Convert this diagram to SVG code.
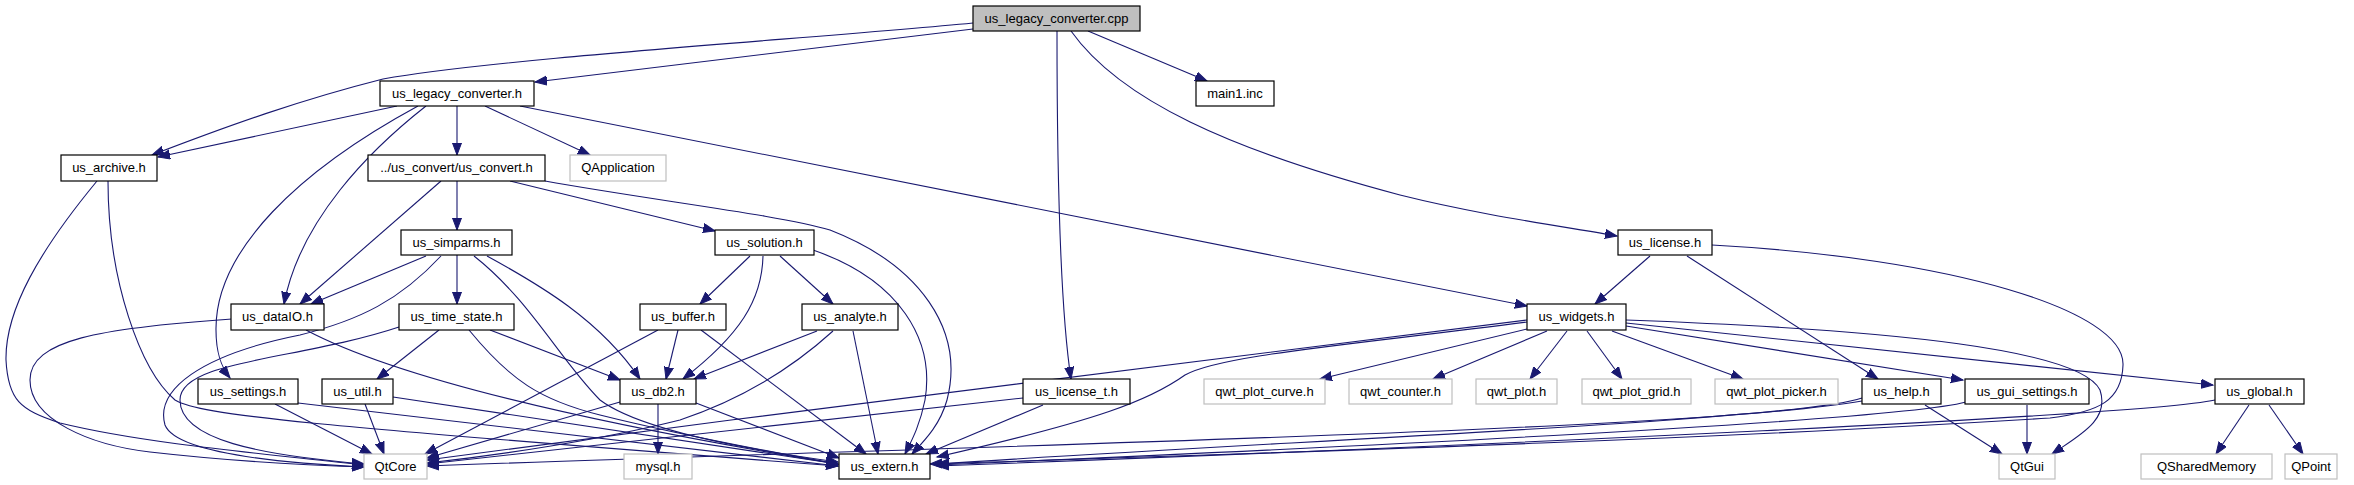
<svg xmlns="http://www.w3.org/2000/svg" width="2354" height="485" viewBox="0 0 2354 485">
<defs>
<marker id="ah" markerUnits="userSpaceOnUse" markerWidth="14" markerHeight="12" refX="12" refY="5" orient="auto">
<path d="M0,0.5 L12,5 L0,9.5 Z" fill="#191970" stroke="#191970" stroke-width="1"/>
</marker>
</defs>
<style>
.n rect{fill:#fff;stroke:#000;stroke-width:1.2}
.x rect{fill:#fff;stroke:#bfbfbf;stroke-width:1.2}
.r rect{fill:#bfbfbf;stroke:#000;stroke-width:1.2}
text{font-family:"Liberation Sans",Arial,sans-serif;font-size:13px;fill:#000;text-anchor:middle}
.e path{fill:none;stroke:#191970;stroke-width:1.1;marker-end:url(#ah)}
</style>
<rect width="2354" height="485" fill="#fff"/>
<g class="e" id="edges">
<path d="M973,23 C820,38 500,58 383,79 C300,100 230,125 152,155"/>
<path d="M973,29 L535,82"/>
<path d="M1088,31 L1207,81"/>
<path d="M1071,31 C1120,100 1230,150 1400,195 C1480,215 1560,226 1617,236"/>
<path d="M1057,31 C1057,200 1062,320 1071,379"/>
<path d="M397,106 L158,157"/>
<path d="M457,106 L457,155"/>
<path d="M485,106 L590,155"/>
<path d="M520,106 L1527,306"/>
<path d="M426,106 C370,150 300,220 284,304"/>
<path d="M418,106 C300,170 215,250 216,330 C216,355 222,368 230,378"/>
<path d="M97,181 C40,250 5,310 6,360 C8,400 20,410 60,423 C150,445 280,455 364,465"/>
<path d="M108,181 C108,280 140,370 175,400 C200,415 300,425 838,466"/>
<path d="M457,181 L457,230"/>
<path d="M510,181 L715,231"/>
<path d="M441,181 L300,304"/>
<path d="M545,181 C650,200 780,215 830,230 C920,265 965,330 947,400 C940,425 925,440 912,454"/>
<path d="M426,256 L311,304"/>
<path d="M457,255 L457,304"/>
<path d="M487,256 C540,285 600,320 640,379"/>
<path d="M441,256 C400,300 360,320 300,335 C200,355 155,390 165,425 C175,450 260,462 364,467"/>
<path d="M474,256 C530,300 560,360 600,400 C640,430 750,450 838,462"/>
<path d="M750,256 L700,304"/>
<path d="M780,256 L833,304"/>
<path d="M763,256 C762,300 740,335 683,379"/>
<path d="M813,250 C900,280 935,340 925,400 C920,425 912,440 905,454"/>
<path d="M232,319 C100,328 30,340 30,380 C30,420 90,445 150,452 C220,460 300,465 364,467"/>
<path d="M306,330 C400,380 600,425 838,464"/>
<path d="M439,330 L377,379"/>
<path d="M490,330 L620,380"/>
<path d="M399,327 C300,360 180,360 180,400 C180,440 260,455 364,464"/>
<path d="M469,330 C510,380 540,400 600,415 C680,435 760,450 838,464"/>
<path d="M678,330 L666,379"/>
<path d="M658,330 L425,454"/>
<path d="M701,330 L866,454"/>
<path d="M817,331 L694,379"/>
<path d="M833,331 C790,370 740,400 680,420 C600,440 500,455 427,463"/>
<path d="M853,331 L878,454"/>
<path d="M275,404 L372,454"/>
<path d="M298,403 L838,466"/>
<path d="M365,404 L384,454"/>
<path d="M393,397 L838,464"/>
<path d="M658,404 L658,454"/>
<path d="M620,402 L427,458"/>
<path d="M696,403 L839,458"/>
<path d="M1023,398 L427,464"/>
<path d="M1043,405 L926,454"/>
<path d="M1650,256 L1595,304"/>
<path d="M1687,256 L1878,379"/>
<path d="M1712,245 C1950,258 2125,310 2123,365 C2122,400 2100,412 2050,418 C1700,440 1300,452 930,464"/>
<path d="M1527,329 L1320,379"/>
<path d="M1547,331 L1433,379"/>
<path d="M1567,331 L1530,379"/>
<path d="M1587,331 L1622,379"/>
<path d="M1612,331 L1743,379"/>
<path d="M1527,320 C1200,360 800,410 427,460"/>
<path d="M1527,322 C1350,345 1220,355 1185,375 C1150,400 1100,420 937,457"/>
<path d="M1626,326 L1963,380"/>
<path d="M1626,323 L2213,385"/>
<path d="M1626,320 C1900,330 2080,350 2100,390 C2110,420 2080,435 2052,454"/>
<path d="M1925,405 L2002,454"/>
<path d="M1862,398 C1800,420 1300,440 937,464"/>
<path d="M1862,401 C1700,430 1000,445 427,466"/>
<path d="M2027,405 L2027,454"/>
<path d="M1966,402 C1900,420 1400,445 937,465"/>
<path d="M2215,400 C2150,415 1500,445 937,466"/>
<path d="M2249,405 L2216,454"/>
<path d="M2269,405 L2303,454"/>
</g>
<g id="n_cpp" class="r"><rect x="973" y="6" width="167" height="25"/><text x="1056.5" y="23">us_legacy_converter.cpp</text></g>
<g id="n_legacy_h" class="n"><rect x="380" y="81" width="154" height="25"/><text x="457" y="98">us_legacy_converter.h</text></g>
<g id="n_main1" class="n"><rect x="1196" y="81" width="78" height="25"/><text x="1235" y="98">main1.inc</text></g>
<g id="n_archive" class="n"><rect x="61" y="155" width="96" height="26"/><text x="109" y="172">us_archive.h</text></g>
<g id="n_convert" class="n"><rect x="368" y="155" width="177" height="26"/><text x="456.5" y="172">../us_convert/us_convert.h</text></g>
<g id="n_qapp" class="x"><rect x="570" y="155" width="96" height="26"/><text x="618" y="172">QApplication</text></g>
<g id="n_simparms" class="n"><rect x="401" y="230" width="111" height="25"/><text x="456.5" y="247">us_simparms.h</text></g>
<g id="n_solution" class="n"><rect x="715" y="230" width="99" height="25"/><text x="764.5" y="247">us_solution.h</text></g>
<g id="n_license" class="n"><rect x="1618" y="230" width="94" height="25"/><text x="1665" y="247">us_license.h</text></g>
<g id="n_dataio" class="n"><rect x="231" y="304" width="93" height="26"/><text x="277.5" y="321">us_dataIO.h</text></g>
<g id="n_timestate" class="n"><rect x="399" y="304" width="115" height="26"/><text x="456.5" y="321">us_time_state.h</text></g>
<g id="n_buffer" class="n"><rect x="640" y="304" width="86" height="26"/><text x="683" y="321">us_buffer.h</text></g>
<g id="n_analyte" class="n"><rect x="802" y="304" width="96" height="26"/><text x="850" y="321">us_analyte.h</text></g>
<g id="n_widgets" class="n"><rect x="1527" y="304" width="99" height="26"/><text x="1576.5" y="321">us_widgets.h</text></g>
<g id="n_settings" class="n"><rect x="198" y="379" width="100" height="25"/><text x="248" y="396">us_settings.h</text></g>
<g id="n_util" class="n"><rect x="322" y="379" width="71" height="25"/><text x="357.5" y="396">us_util.h</text></g>
<g id="n_db2" class="n"><rect x="620" y="379" width="76" height="25"/><text x="658" y="396">us_db2.h</text></g>
<g id="n_license_t" class="n"><rect x="1023" y="379" width="107" height="25"/><text x="1076.5" y="396">us_license_t.h</text></g>
<g id="n_qwt_plot_curve" class="x"><rect x="1204" y="379" width="121" height="25"/><text x="1264.5" y="396">qwt_plot_curve.h</text></g>
<g id="n_qwt_counter" class="x"><rect x="1349" y="379" width="103" height="25"/><text x="1400.5" y="396">qwt_counter.h</text></g>
<g id="n_qwt_plot" class="x"><rect x="1476" y="379" width="81" height="25"/><text x="1516.5" y="396">qwt_plot.h</text></g>
<g id="n_qwt_plot_grid" class="x"><rect x="1582" y="379" width="109" height="25"/><text x="1636.5" y="396">qwt_plot_grid.h</text></g>
<g id="n_qwt_plot_picker" class="x"><rect x="1715" y="379" width="123" height="25"/><text x="1776.5" y="396">qwt_plot_picker.h</text></g>
<g id="n_help" class="n"><rect x="1862" y="379" width="79" height="25"/><text x="1901.5" y="396">us_help.h</text></g>
<g id="n_gui_settings" class="n"><rect x="1965" y="379" width="124" height="25"/><text x="2027" y="396">us_gui_settings.h</text></g>
<g id="n_global" class="n"><rect x="2215" y="379" width="89" height="25"/><text x="2259.5" y="396">us_global.h</text></g>
<g id="n_qtcore" class="x"><rect x="364" y="454" width="63" height="25"/><text x="395.5" y="471">QtCore</text></g>
<g id="n_mysql" class="x"><rect x="624" y="454" width="68" height="25"/><text x="658" y="471">mysql.h</text></g>
<g id="n_extern" class="n"><rect x="839" y="454" width="91" height="25"/><text x="884.5" y="471">us_extern.h</text></g>
<g id="n_qtgui" class="x"><rect x="1999" y="454" width="56" height="25"/><text x="2027" y="471">QtGui</text></g>
<g id="n_qsharedmemory" class="x"><rect x="2141" y="454" width="131" height="25"/><text x="2206.5" y="471">QSharedMemory</text></g>
<g id="n_qpoint" class="x"><rect x="2285" y="454" width="52" height="25"/><text x="2311" y="471">QPoint</text></g>
</svg>
